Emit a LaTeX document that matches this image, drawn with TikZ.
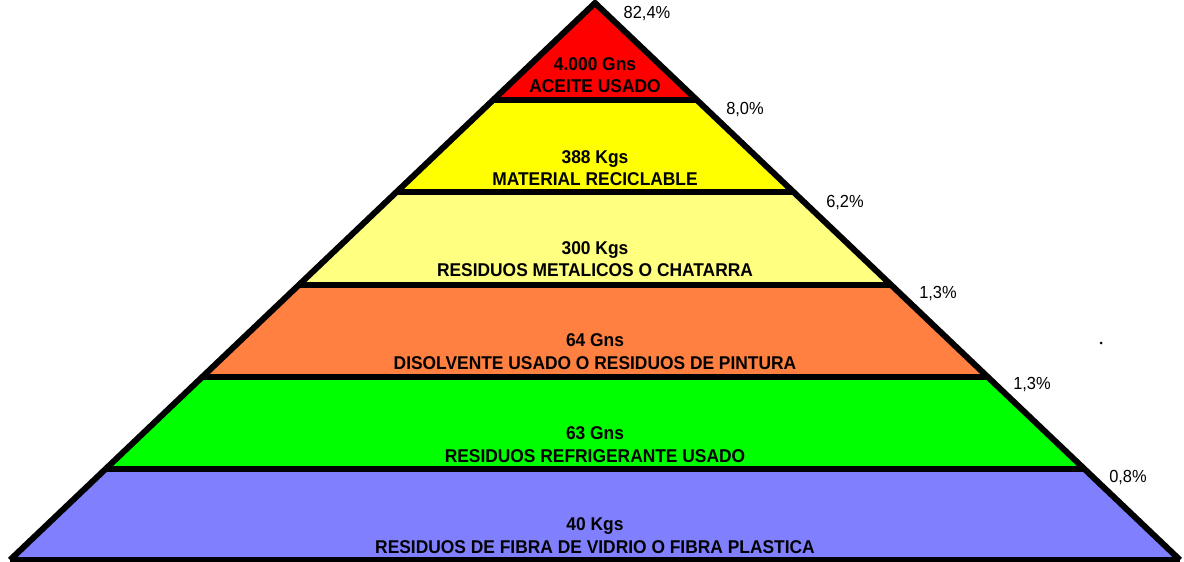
\documentclass[tikz,border=0pt]{standalone}
\usepackage{fontspec}
\setmainfont{Liberation Sans}[FakeStretch=0.94]
\usetikzlibrary{calc}
\definecolor{cA}{HTML}{FF0000}
\definecolor{cB}{HTML}{FFFF00}
\definecolor{cC}{HTML}{FFFF80}
\definecolor{cD}{HTML}{FF8040}
\definecolor{cE}{HTML}{00FF00}
\definecolor{cF}{HTML}{8080FF}
\begin{document}
\begin{tikzpicture}[x=1pt,y=-1pt,
  sep/.style={line width=6pt},
  edge/.style={line width=6pt,line join=miter},
  lbl/.style={font=\bfseries\fontsize{18.5}{22.5}\selectfont, align=center, inner sep=0pt},
  pct/.style={font=\fontsize{17.5}{19}\selectfont, inner sep=0pt}]
\useasboundingbox (0,0) rectangle (1184,562);
% pyramid corners
\coordinate (apex) at (595,3);
\coordinate (bl) at (10,560);
\coordinate (br) at (1180,560);
% level boundaries along the two sides
\foreach \n/\t in {1/0.17415,2/0.33932,3/0.50628,4/0.67145,5/0.83662}{
  \coordinate (l\n) at ($(apex)!\t!(bl)$);
  \coordinate (r\n) at ($(apex)!\t!(br)$);
}
% coloured levels
\fill[cA] (apex) -- (l1) -- (r1) -- cycle;
\fill[cB] (l1) -- (l2) -- (r2) -- (r1) -- cycle;
\fill[cC] (l2) -- (l3) -- (r3) -- (r2) -- cycle;
\fill[cD] (l3) -- (l4) -- (r4) -- (r3) -- cycle;
\fill[cE] (l4) -- (l5) -- (r5) -- (r4) -- cycle;
\fill[cF] (l5) -- (bl) -- (br) -- (r5) -- cycle;
% separators and outline
\foreach \n in {1,...,5}{\draw[sep] (l\n) -- (r\n);}
\draw[edge] (bl) -- (apex) -- (br);
\draw[sep] (bl) -- (br);
% level labels
\node[lbl] (tA) at (595,75) {4.000 Gns\\ACEITE USADO};
\node[lbl] (tB) at (595,168) {388 Kgs\\MATERIAL RECICLABLE};
\node[lbl] (tC) at (595,259) {300 Kgs\\RESIDUOS METALICOS O CHATARRA};
\node[lbl] (tD) at (595,351.5) {64 Gns\\DISOLVENTE USADO O RESIDUOS DE PINTURA};
\node[lbl] (tE) at (595,444.5) {63 Gns\\RESIDUOS REFRIGERANTE USADO};
\node[lbl] (tF) at (595,535.5) {40 Kgs\\RESIDUOS DE FIBRA DE VIDRIO O FIBRA PLASTICA};
% percentages
\node[pct] (pA) at (647,14) {82,4\%};
\node[pct] (pB) at (745,110) {8,0\%};
\node[pct] (pC) at (845,203) {6,2\%};
\node[pct] (pD) at (938,294) {1,3\%};
\node[pct] (pE) at (1032,385) {1,3\%};
\node[pct] (pF) at (1128,478) {0,8\%};
\fill (1101,343) circle (1.5);
\end{tikzpicture}
\end{document}
